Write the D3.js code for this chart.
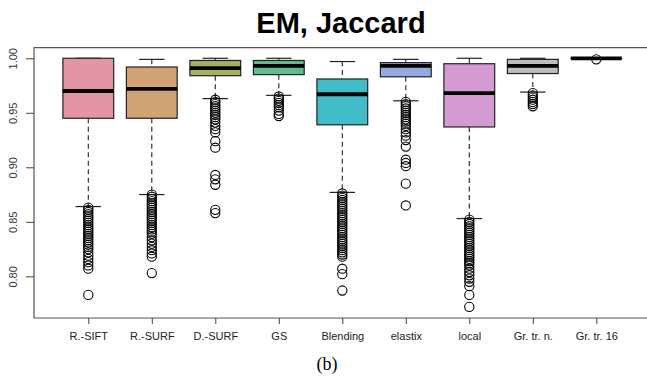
<!DOCTYPE html>
<html>
<head>
<meta charset="utf-8">
<script src="https://cdn.jsdelivr.net/npm/d3@7"></script>
<style>
  html, body { margin: 0; padding: 0; background: #fff; }
  svg { display: block; }
</style>
</head>
<body>
<svg id="chart" width="647" height="379"></svg>
<script>
// ---- data ----
const categories = ["R.-SIFT", "R.-SURF", "D.-SURF", "GS", "Blending", "elastix", "local", "Gr. tr. n.", "Gr. tr. 16"];
const whiskerHigh = [1.000, 0.999, 1.000, 1.000, 0.997, 0.999, 1.000, 1.000, 1.000];
const q3Values    = [1.000, 0.992, 0.998, 0.998, 0.981, 0.996, 0.995, 0.999, 1.000];
const medians     = [0.970, 0.972, 0.991, 0.993, 0.967, 0.993, 0.968, 0.993, 1.000];
const q1Values    = [0.945, 0.945, 0.984, 0.985, 0.939, 0.983, 0.937, 0.986, 1.000];
const whiskerLow  = [0.864, 0.875, 0.963, 0.966, 0.877, 0.961, 0.853, 0.969, 1.000];
const outliers = [
  [0.863,0.861,0.859,0.857,0.855,0.853,0.851,0.849,0.847,0.845,0.843,0.841,0.839,0.837,0.835,0.833,0.831,0.829,0.827,0.825,0.822,0.819,0.816,0.813,0.810,0.807,0.783],
  [0.875,0.873,0.871,0.869,0.867,0.865,0.863,0.861,0.859,0.857,0.855,0.853,0.851,0.849,0.847,0.845,0.843,0.841,0.839,0.836,0.833,0.830,0.827,0.824,0.821,0.818,0.803],
  [0.962,0.960,0.958,0.956,0.954,0.952,0.950,0.948,0.946,0.944,0.941,0.938,0.935,0.932,0.924,0.918,0.893,0.889,0.884,0.861,0.858],
  [0.965,0.963,0.961,0.959,0.957,0.955,0.952,0.949,0.947],
  [0.876,0.874,0.872,0.870,0.868,0.866,0.864,0.862,0.860,0.858,0.856,0.854,0.852,0.850,0.848,0.846,0.844,0.842,0.840,0.838,0.836,0.834,0.832,0.830,0.828,0.826,0.824,0.822,0.820,0.818,0.807,0.802,0.787],
  [0.960,0.958,0.956,0.954,0.952,0.950,0.948,0.946,0.944,0.942,0.940,0.938,0.935,0.932,0.929,0.925,0.919,0.907,0.904,0.901,0.885,0.865],
  [0.852,0.850,0.848,0.846,0.844,0.842,0.840,0.838,0.836,0.834,0.832,0.830,0.828,0.826,0.824,0.822,0.820,0.818,0.816,0.814,0.812,0.810,0.807,0.804,0.801,0.798,0.795,0.791,0.783,0.772],
  [0.968,0.966,0.964,0.962,0.960,0.958,0.956],
  [0.9990]
];
const colors = ["#E495A5", "#D1A374", "#A3B065", "#62BD8E", "#41BBC7", "#97A9E1", "#D59AD2", "#BEBEBE", "#BEBEBE"];
const yTicks = [0.80, 0.85, 0.90, 0.95, 1.00];
const title = "EM, Jaccard";
const caption = "(b)";

// ---- layout ----
const svg = d3.select("#chart");
const mLeft = 34, mRight = 650.6, mTop = 47.7, mBottom = 318;

const x = d3.scalePoint().domain(categories).range([mLeft, mRight]).padding(0.855);
const y = d3.scaleLinear().domain([0.7618, 1.0097]).range([mBottom, mTop]);
const boxW = x.step() * 0.8;
const capW = boxW * 0.5;

// frame (right side is off-canvas)
svg.append("path")
  .attr("d", `M${mRight},${mTop}H${mLeft}V${mBottom}H${mRight}`)
  .attr("fill", "none").attr("stroke", "#555").attr("stroke-width", 1.2);

// boxes
const g = svg.append("g");
categories.forEach((c, i) => {
  const cx = x(c);
  const gg = g.append("g");
  gg.append("line").attr("x1", cx).attr("x2", cx)
    .attr("y1", y(whiskerHigh[i])).attr("y2", y(q3Values[i]))
    .attr("stroke", "#222").attr("stroke-dasharray", "5,3.5").attr("stroke-width", 1.1);
  gg.append("line").attr("x1", cx).attr("x2", cx)
    .attr("y1", y(q1Values[i])).attr("y2", y(whiskerLow[i]))
    .attr("stroke", "#222").attr("stroke-dasharray", "5,3.5").attr("stroke-width", 1.1);
  [whiskerHigh[i], whiskerLow[i]].forEach(v => {
    gg.append("line").attr("x1", cx - capW / 2).attr("x2", cx + capW / 2)
      .attr("y1", y(v)).attr("y2", y(v))
      .attr("stroke", "#222").attr("stroke-width", 1.2);
  });
  const h = y(q1Values[i]) - y(q3Values[i]);
  gg.append("rect")
    .attr("x", cx - boxW / 2).attr("y", y(q3Values[i]))
    .attr("width", boxW).attr("height", Math.max(h, 0.01))
    .attr("fill", colors[i]).attr("stroke", "#222").attr("stroke-width", 1.2);
  gg.append("line").attr("x1", cx - boxW / 2).attr("x2", cx + boxW / 2)
    .attr("y1", y(medians[i])).attr("y2", y(medians[i]))
    .attr("stroke", "#000").attr("stroke-width", 3.8);
  gg.selectAll("circle").data(outliers[i]).join("circle")
    .attr("cx", cx).attr("cy", d => y(d)).attr("r", 4.6)
    .attr("fill", "none").attr("stroke", "#000").attr("stroke-width", 1.1);
});

// y axis
const yAxis = svg.append("g").attr("transform", `translate(${mLeft},0)`)
  .call(d3.axisLeft(y).tickValues(yTicks).tickFormat(d3.format(".2f")).tickSize(8).tickSizeOuter(0));
yAxis.select(".domain").remove();
yAxis.selectAll(".tick line").attr("stroke", "#444");
yAxis.selectAll(".tick text")
  .attr("transform", "rotate(-90)")
  .attr("x", 0).attr("y", -17).attr("dy", 0)
  .attr("text-anchor", "middle")
  .attr("fill", "#333")
  .style("font-family", "Liberation Sans, Arial, sans-serif")
  .style("font-size", "11px");

// x axis
const xAxis = svg.append("g").attr("transform", `translate(0,${mBottom})`)
  .call(d3.axisBottom(x).tickSize(6).tickSizeOuter(0));
xAxis.select(".domain").remove();
xAxis.selectAll(".tick line").attr("stroke", "#444");
xAxis.selectAll(".tick text")
  .attr("y", 18).attr("dy", "0.32em")
  .attr("fill", "#222")
  .style("font-family", "Liberation Sans, Arial, sans-serif")
  .style("font-size", "11px");

// title
svg.append("text").attr("x", 341).attr("y", 33)
  .attr("text-anchor", "middle")
  .style("font-family", "Liberation Sans, Arial, sans-serif")
  .style("font-weight", "bold").style("font-size", "29px")
  .attr("fill", "#000").text(title);

// caption
svg.append("text").attr("x", 327).attr("y", 370)
  .attr("text-anchor", "middle")
  .style("font-family", "Liberation Serif, Times New Roman, serif")
  .style("font-size", "18px")
  .attr("fill", "#000").text(caption);
</script>
</body>
</html>
